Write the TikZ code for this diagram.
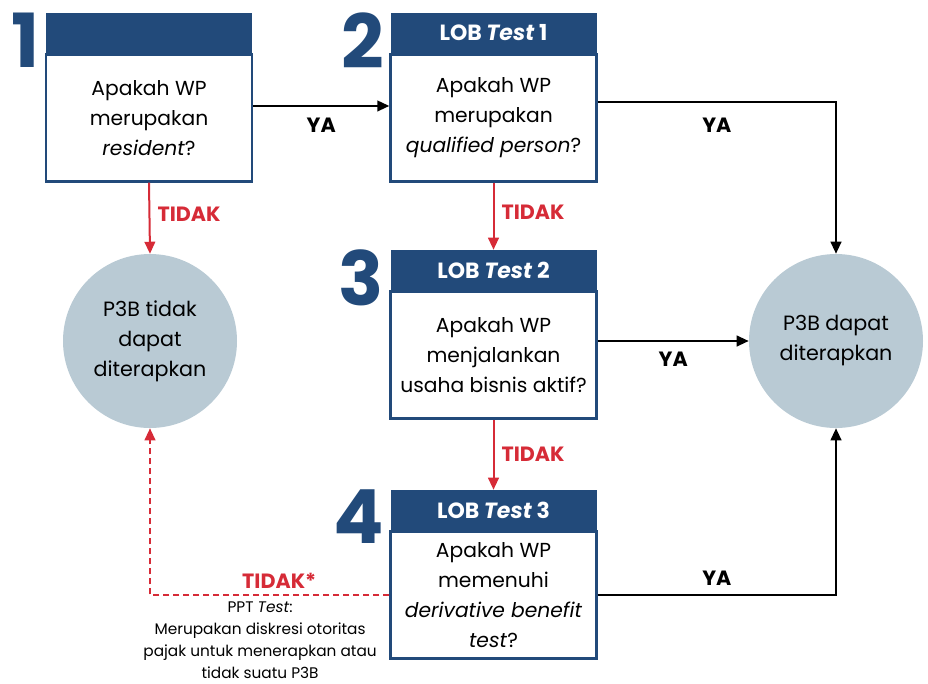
\documentclass[tikz,border=0pt]{standalone}
\usepackage{fontspec}
\setmainfont{Poppins}
\usetikzlibrary{positioning,arrows.meta}
\definecolor{lobblue}{HTML}{224A7A}
\definecolor{lobred}{HTML}{D62B37}
\definecolor{lobgray}{HTML}{B9CAD4}

\begin{document}
\begin{tikzpicture}[x=0.75pt, y=-0.75pt, >={Triangle[length=9pt,width=8pt]},
  head/.style={fill=lobblue, text=white, minimum width=154.5pt, minimum height=30pt, inner sep=0pt, font=\bfseries\fontsize{16.5}{18}\selectfont},
  question/.style={draw=lobblue, line width=1.8pt, fill=white, minimum width=154.5pt, minimum height=95.25pt, align=center, font=\fontsize{15.2}{22.5}\selectfont},
  result/.style={circle, fill=lobgray, minimum size=130.5pt, inner sep=0pt, align=center, font=\fontsize{15.5}{22.5}\selectfont},
  num/.style={text=lobblue, anchor=north east, inner sep=0pt, font=\bfseries\fontsize{56}{56}\selectfont},
  yes/.style={->, line width=1.5pt},
  no/.style={->, line width=1.5pt, lobred},
  lbl/.style={font=\bfseries\fontsize{15.5}{17}\selectfont},
]
\useasboundingbox (0,0) rectangle (928,683);

% question boxes
\node[head] (h1) at (149,33) {};
\node[question, below=0pt of h1] (b1) {Apakah WP\\merupakan\\\textit{resident}?};
\node[head] (h2) at (493.5,33) {LOB \textit{Test} 1};
\node[question, below=0pt of h2] (b2) {Apakah WP\\merupakan\\\textit{qualified person}?};
\node[head] (h3) at (493.5,270) {LOB \textit{Test} 2};
\node[question, below=0pt of h3] (b3) {Apakah WP\\menjalankan\\usaha bisnis aktif?};
\node[head] (h4) at (493.5,510) {LOB \textit{Test} 3};
\node[question, below=0pt of h4] (b4) {Apakah WP\\memenuhi\\\textit{derivative benefit}\\\textit{test}?};

% step numbers
\node[num, left=4.5pt of h1.north west, anchor=north east] (n1) {1};
\node[num, left=4.5pt of h2.north west, anchor=north east] (n2) {2};
\node[num, left=4.5pt of h3.north west, anchor=north east] (n3) {3};
\node[num, left=4.5pt of h4.north west, anchor=north east] (n4) {4};

% outcomes
\node[result] (cL) at (150,341) {P3B tidak\\dapat\\diterapkan};
\node[result] (cR) at (836,341) {P3B dapat\\diterapkan};

% YA
\draw[yes] ([yshift=9pt]b1.east) -- ([yshift=9pt]b2.west) node[midway, below=5pt, lbl, text=black]{YA};
\draw[yes] ([yshift=12pt]b2.east) -| (cR.north) node[pos=0.25, below=8pt, lbl]{YA};
\draw[yes] (b3.east |- cR) -- (cR.west) node[midway, below=4pt, lbl]{YA};
\draw[yes] (b4.east) -| (cR.south) node[pos=0.25, above=3pt, lbl]{YA};

% TIDAK
\draw[no] (b1.south) -- (cL.north) node[midway, right=2pt, yshift=3pt, lbl]{TIDAK};
\draw[no] (b2.south) -- (h3.north) node[midway, right=2pt, yshift=3pt, lbl]{TIDAK};
\draw[no] (b3.south) -- (h4.north) node[midway, right=2pt, lbl]{TIDAK};
\draw[no, dash pattern=on 4.5pt off 3pt] (b4.west) -| (cL.south) node[pos=0.23, above=1pt, lbl]{TIDAK*}
  node[pos=0.27, below=1pt, text=black, align=center, font=\fontsize{11.5}{16.5}\selectfont]{PPT \textit{Test}:\\Merupakan diskresi otoritas\\pajak untuk menerapkan atau\\tidak suatu P3B};
\end{tikzpicture}
\end{document}
